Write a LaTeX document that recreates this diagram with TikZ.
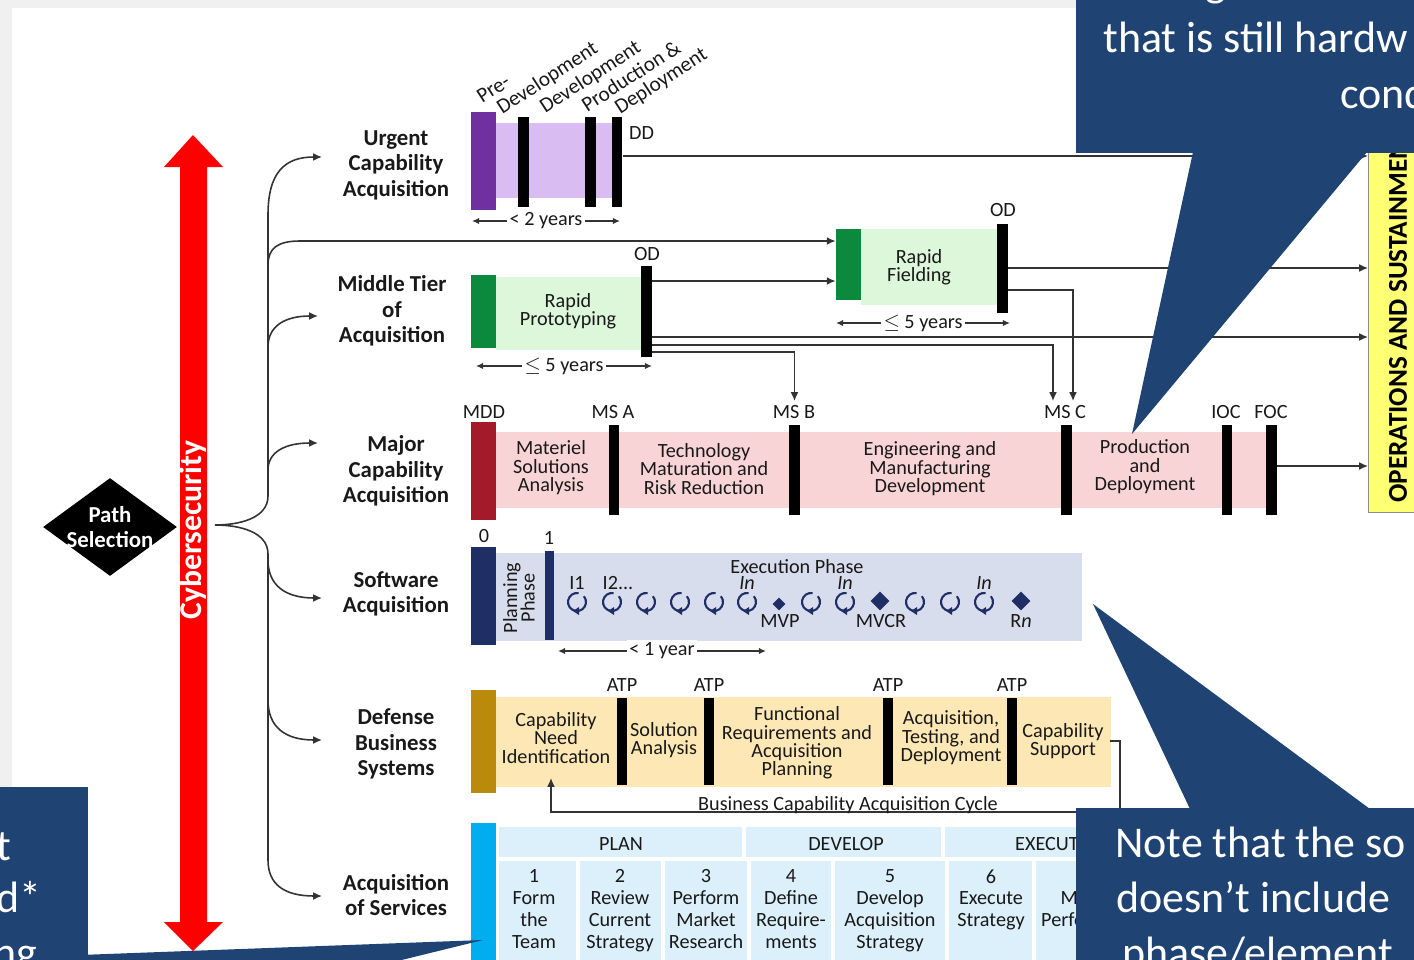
\documentclass[tikz,border=0pt]{standalone}
\usepackage{fontspec}
\setmainfont{Carlito}
\usetikzlibrary{arrows.meta,calc,positioning,shapes.geometric}
\definecolor{callblue}{HTML}{1F4373}
\definecolor{urgdark}{HTML}{7030A0}
\definecolor{urglight}{HTML}{D9BCF2}
\definecolor{mtadark}{HTML}{0B8A3E}
\definecolor{mtalight}{HTML}{DDF7DA}
\definecolor{mcadark}{HTML}{A31B2A}
\definecolor{mcalight}{HTML}{F8D4D7}
\definecolor{swdark}{HTML}{1F2F66}
\definecolor{swlight}{HTML}{D7DDEC}
\definecolor{dbsdark}{HTML}{BA8A0A}
\definecolor{dbslight}{HTML}{FDE8B5}
\definecolor{aosdark}{HTML}{00AEEF}
\definecolor{aoslight}{HTML}{DCF0FB}
\definecolor{osyellow}{HTML}{FFFF73}
\definecolor{cyberred}{HTML}{FF0000}

\begin{document}
\begin{tikzpicture}[x={(0.02cm,0)}, y={(0,-0.02cm)},
  conn/.style={line width=0.9pt, draw=black!80},
  tip/.style={-{Latex[length=5pt,width=4.5pt]}},
  years/.style={line width=0.7pt, draw=black!80, {Latex[length=4pt,width=3.5pt]}-{Latex[length=4pt,width=3.5pt]}},
  msbar/.style={fill=black, inner sep=0, minimum width=0.21cm, minimum height=1.8cm},
  entry/.style={inner sep=0, minimum width=0.5cm},
  rowlab/.style={font=\bfseries\fontsize{13}{14.5}\selectfont, align=center, text=black!90},
  lab/.style={font=\fontsize{11.5}{10.5}\selectfont, align=center, text=black!90},
  svc/.style={font=\fontsize{11.5}{12.5}\selectfont, align=center, text=black!90, anchor=north, inner sep=0},
  rotlab/.style={font=\fontsize{12}{12}\selectfont, rotate=33, anchor=base west, inner sep=0, text=black!90},
  calltxt/.style={font=\fontsize{25}{30}\selectfont, text=white, inner sep=0},
  loopico/.style={draw=swdark, line width=1.2pt}
]
\useasboundingbox (0,0) rectangle (1414,960);
\clip (0,0) rectangle (1414,960);
\fill[black!6] (0,0) rectangle (1414,960);
\fill[white] (12,8) rectangle (1414,960);

% operations and sustainment
\node[draw=black!45, fill=osyellow, inner sep=0, anchor=north west, minimum width=1.2cm, minimum height=7.44cm] (os) at (1368,140) {};
\node[rotate=90, anchor=west, inner sep=0, font=\bfseries\fontsize{15.5}{16}\selectfont] (ostxt) at (1398,503) {OPERATIONS AND SUSTAINMENT};

% path selection and cybersecurity
\node[diamond, fill=black, inner sep=0, minimum width=2.68cm, minimum height=1.96cm] (path) at (110,527) {};
\node[text=white, font=\bfseries\fontsize{13}{14.5}\selectfont, align=center] (pathtxt) at (path.center) {Path\\Selection};
\fill[cyberred] (193,135) -- (223,167) -- (207,167) -- (207,922) -- (223,922) -- (193,951) -- (164,922) -- (180,922) -- (180,167) -- (164,167) -- cycle;
\node[rotate=90, text=white, font=\bfseries\fontsize{18}{18}\selectfont] (cyber) at (193,530) {Cybersecurity};

% brace and branches
\draw[conn] (268,215) -- (268,496) .. controls (268,518) and (240,525) .. (215,525);
\draw[conn] (268,860) -- (268,554) .. controls (268,532) and (240,525) .. (215,525);
\draw[conn, tip] (268,215) .. controls (268,172) and (285,157) .. (322,157);
\draw[conn, tip] (268,347) .. controls (268,326) and (285,316) .. (318,316);
\draw[conn, tip] (268,470) .. controls (268,452) and (285,443) .. (318,443);
\draw[conn, tip] (268,560) .. controls (268,585) and (285,598) .. (322,598);
\draw[conn, tip] (268,700) .. controls (268,727) and (285,740) .. (322,740);
\draw[conn, tip] (268,860) .. controls (268,885) and (285,896) .. (322,896);

% row labels
\node[rowlab] (lUCA) at (396,165) {Urgent\\Capability\\Acquisition};
\node[rowlab] (lMTA) at (392,311) {Middle Tier\\of\\Acquisition};
\node[rowlab] (lMCA) at (396,471) {Major\\Capability\\Acquisition};
\node[rowlab] (lSWA) at (396,594) {Software\\Acquisition};
\node[rowlab] (lDBS) at (396,744) {Defense\\Business\\Systems};
\node[rowlab] (lAOS) at (396,895) {Acquisition\\of Services};

% urgent capability
\fill[urglight] (496,123) rectangle (617,198);
\node[entry, fill=urgdark, minimum height=1.96cm] (uca) at (483,161) {};
\foreach \n/\x in {ucaA/523.5, ucaB/590.5, ucaC/617}
  \node[msbar] (\n) at (\x,162) {};
\node[lab, anchor=west] (tDD) at (623,133) {DD};
\node[rotlab] (tPre) at (482,104) {Pre-};
\node[rotlab] (tDev1) at (502,115) {Development};
\node[rotlab] (tDev2) at (545,114) {Development};
\node[rotlab] (tProd) at (587,113) {Production \&};
\node[rotlab] (tDep) at (620,115) {Deployment};
\draw[years] (472,221) -- (620,221) node[midway, fill=white, lab, inner sep=1.5pt] (yUCA) {< 2 years};
\draw[conn, tip] (ucaC.east |- 0,156) -- (os.west |- 0,156);

% middle tier
\fill[mtalight] (496,277) rectangle (642,350);
\node[entry, fill=mtadark, minimum height=1.46cm] (mta) at (483,311.5) {};
\node[lab] (tRP) at (568,311) {Rapid\\Prototyping};
\node[msbar, minimum height=1.82cm] (odRP) at (646.5,311.5) {};
\node[lab] (tODrp) at (647,254) {OD};
\draw[years] (476,366) -- (652,366) node[midway, fill=white, lab, inner sep=1.5pt] (yRP) {$\le$ 5 years};
\fill[mtalight] (861,229) rectangle (999,305);
\node[entry, fill=mtadark, minimum height=1.42cm] (rf) at (848.5,264.5) {};
\node[lab] (tRF) at (919,267) {Rapid\\Fielding};
\node[msbar, minimum height=1.78cm] (odRF) at (1002.5,268.5) {};
\node[lab] (tODrf) at (1003,210) {OD};
\draw[years] (836,323) -- (1010,323) node[midway, fill=white, lab, inner sep=1.5pt] (yRF) {$\le$ 5 years};
\draw[conn, tip] (268,265) .. controls (268,248) and (278,241) .. (300,241) -- (rf.west |- 0,241);

% major capability
\fill[mcalight] (496,432) rectangle (1270,508);
\node[entry, fill=mcadark, minimum height=1.96cm] (mca) at (483,471) {};
\foreach \n/\x in {msA/614, msB/794.5, msC/1066.5, ioc/1227, foc/1271.5}
  \node[msbar] (\n) at (\x,470) {};
\foreach \n/\x/\t in {tMDD/484/MDD, tMSA/613/MS A, tMSB/794/MS B, tMSC/1065/MS C, tIOC/1226/IOC, tFOC/1271/FOC}
  \node[lab] (\n) at (\x,412) {\t};
\node[lab] (pMSA) at (551,468) {Materiel\\Solutions\\Analysis};
\node[lab] (pTMRR) at (704,469) {Technology\\Maturation and\\Risk Reduction};
\node[lab] (pEMD) at (930,469) {Engineering and\\Manufacturing\\Development};
\node[lab] (pPD) at (1145,467) {Production\\and\\Deployment};
\draw[conn, tip] (foc.east |- 0,466) -- (os.west |- 0,466);

% middle tier exits
\draw[conn, tip] (odRP.east |- 0,281) -- (rf.west |- 0,281);
\draw[conn, tip] (odRF.east |- 0,268) -- (os.west |- 0,268);
\draw[conn, tip] (odRP.east |- 0,337) -- (os.west |- 0,337);
\draw[conn, tip] (odRF.east |- 0,290) -| (1073,401);
\draw[conn, tip] (odRP.east |- 0,345) -| (1053,401);
\draw[conn, tip] (odRP.east |- 0,352) -| (msB |- 0,401);

% software
\fill[swlight] (496,553) rectangle (1082,641);
\node[entry, fill=swdark, minimum height=1.96cm] (swa) at (483,596) {};
\node[fill=swdark, inner sep=0, minimum width=0.18cm, minimum height=1.78cm] (sw1) at (549.5,595.5) {};
\node[lab] (t0) at (484,536) {0};
\node[lab] (t1) at (549,538) {1};
\node[lab, rotate=90, font=\fontsize{11.5}{10}\selectfont] (tPlan) at (519,598) {Planning\\Phase};
\node[lab] (tExec) at (797,567) {Execution Phase};
\foreach \x in {577,612,646,680,714,747,811,845,915,950,984} {
  \draw[loopico] (\x,602) ++(-80:9) arc (-80:-400:9);
  \fill[swdark] (\x-4,611) -- (\x+2,607) -- (\x+2,615) -- cycle;
}
\node[diamond, fill=swdark, inner sep=0, minimum size=0.26cm] (mvp) at (779,604) {};
\node[diamond, fill=swdark, inner sep=0, minimum size=0.38cm] (mvcr) at (880,601) {};
\node[diamond, fill=swdark, inner sep=0, minimum size=0.38cm] (rn) at (1021,601) {};
\node[lab] (tI1) at (577,583) {I1};
\node[lab] (tI2) at (618,583) {I2...};
\foreach \n/\x in {tInA/747, tInB/845, tInC/984}
  \node[lab] (\n) at (\x,583) {\textit{In}};
\node[lab] (tMVP) at (780,621) {MVP};
\node[lab] (tMVCR) at (881,621) {MVCR};
\node[lab] (tRn) at (1021,621) {R\textit{n}};
\draw[years] (558,651) -- (766,651) node[midway, fill=white, lab, inner sep=1.5pt] (ySW) {< 1 year};

% defense business systems
\fill[dbslight] (496,697) rectangle (1111,787);
\node[entry, fill=dbsdark, minimum height=2.06cm] (dbs) at (483,741.5) {};
\foreach \n/\x in {atpA/622, atpB/709, atpC/888, atpD/1012} {
  \node[msbar, minimum height=1.74cm] (\n) at (\x,741.5) {};
  \node[lab] (t\n) at (\x,685) {ATP};
}
\node[lab] (dCNI) at (556,738) {Capability\\Need\\Identification};
\node[lab] (dSA) at (664,740) {Solution\\Analysis};
\node[lab] (dFR) at (797,743) {Functional\\Requirements and\\Acquisition\\Planning};
\node[lab] (dATD) at (951,738) {Acquisition,\\Testing, and\\Deployment};
\node[lab] (dCS) at (1063,741) {Capability\\Support};
\draw[conn, tip] (dCS.east) -- ++(10,0) |- (551,812) -- (551,778);
\node[lab, anchor=base] (tCycle) at (848,810) {Business Capability Acquisition Cycle};

% acquisition of services
\fill[aoslight] (496,827) rectangle (1100,965);
\node[entry, fill=aosdark, minimum height=2.9cm, anchor=north] (aos) at (483,823) {};
\draw[white, line width=2pt] (497.5,827) -- (497.5,965) (496,859) -- (1100,859) (744,827) -- (744,859) (943,827) -- (943,859);
\foreach \x in {578,663,749,833,947,1034}
  \draw[white, line width=2pt] (\x,859) -- (\x,965);
\node[lab] (hPlan) at (621,844) {PLAN};
\node[lab] (hDev) at (846,844) {DEVELOP};
\node[lab, anchor=west] (hExe) at (1009,844) {EXECUTE};
\foreach \n/\x/\t in {s1/534/{1\\Form\\the\\Team}, s2/620/{2\\Review\\Current\\Strategy}, s3/706/{3\\Perform\\Market\\Research}, s4/791/{4\\Define\\Require-\\ments}, s5/890/{5\\Develop\\Acquisition\\Strategy}, s6/991/{6\\Execute\\Strategy}, s7/1094/{7\\Manage\\Performance}}
  \node[svc] (\n) at (\x,869) {\t};

% callouts
\fill[callblue] (1076,-10) rectangle (1430,153);
\fill[callblue] (1193,152) -- (1132,434) -- (1367,152) -- cycle;
\node[calltxt, anchor=base west] (cTopA) at (1205,-4) {g};
\node[calltxt, anchor=base west] (cTopB) at (1103,52) {that is still hardw};
\node[calltxt, anchor=base west] (cTopC) at (1340,108) {cond};
\fill[callblue] (1076,808) rectangle (1430,980);
\fill[callblue] (1190,809) -- (1093,604) -- (1370,809) -- cycle;
\node[calltxt, anchor=base west] (cBotA) at (1115,857) {Note that the so};
\node[calltxt, anchor=base west] (cBotB) at (1116,912) {doesn’t include};
\node[calltxt, anchor=base west] (cBotC) at (1122,967) {phase/element};
\fill[callblue] (-10,787) rectangle (88,985);
\fill[callblue] (80,955) -- (483,940) -- (300,985) -- (80,985) -- cycle;
\node[calltxt, anchor=base east] (cLftA) at (12,860) {t};
\node[calltxt, anchor=base east] (cLftB) at (42,912) {d*};
\node[calltxt, anchor=base east] (cLftC) at (38,967) {ng};
\end{tikzpicture}
\end{document}
